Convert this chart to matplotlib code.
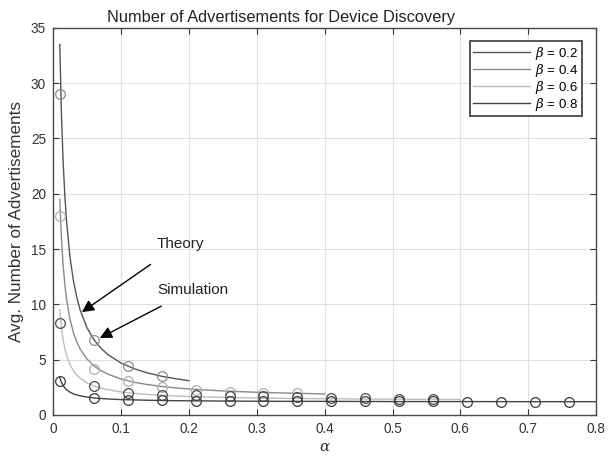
import numpy as np
import matplotlib
matplotlib.use('Agg')
import matplotlib.pyplot as plt

plt.rcParams['font.family'] = ['Liberation Sans', 'DejaVu Sans']
plt.rcParams['mathtext.fontset'] = 'dejavuserif'

# courbes théoriques
alpha_th = [0.01, 0.0125, 0.015, 0.0175, 0.02, 0.025, 0.03, 0.035, 0.04, 0.05,
            0.06, 0.07, 0.08, 0.1, 0.12, 0.14, 0.16, 0.18, 0.2,
            0.25, 0.3, 0.35, 0.4, 0.5, 0.6, 0.7, 0.8]
th_b02 = [33.5, 27.1, 22.83, 19.79, 17.5, 14.3, 12.17, 10.64, 9.5, 7.9,
          6.83, 6.07, 5.5, 4.7, 4.17, 3.79, 3.5, 3.28, 3.1]
th_b04 = [19.5, 15.89, 13.48, 11.76, 10.48, 8.67, 7.47, 6.61, 5.96, 5.06,
          4.46, 4.03, 3.71, 3.26, 2.95, 2.74, 2.58, 2.45, 2.35,
          2.17, 2.05, 1.97, 1.9]
th_b06 = [9.5, 7.85, 6.75, 5.97, 5.38, 4.56, 4.01, 3.61, 3.32, 2.91,
          2.63, 2.44, 2.29, 2.08, 1.95, 1.85, 1.78, 1.72, 1.67,
          1.59, 1.53, 1.50, 1.47, 1.42, 1.40]
th_b08 = [3.4, 2.95, 2.66, 2.44, 2.29, 2.06, 1.91, 1.81, 1.73, 1.62,
          1.54, 1.49, 1.45, 1.39, 1.36, 1.33, 1.31, 1.29, 1.28,
          1.26, 1.24, 1.23, 1.23, 1.21, 1.21, 1.20, 1.20]

# points de simulation
alpha_sim = [0.01, 0.06, 0.11, 0.16, 0.21, 0.26, 0.31, 0.36,
             0.41, 0.46, 0.51, 0.56, 0.61, 0.66, 0.71, 0.76]
sim_b02 = [29.0, 6.8, 4.4, 3.5]
sim_b04 = [18.0, 4.2, 3.1, 2.5, 2.3, 2.1, 2.0, 2.0]
sim_b06 = [8.3, 2.6, 2.0, 1.8, 1.8, 1.7, 1.7, 1.6, 1.5, 1.5, 1.45, 1.45]
sim_b08 = [3.1, 1.5, 1.35, 1.35, 1.3, 1.3, 1.3, 1.25, 1.25, 1.25, 1.25, 1.25,
           1.2, 1.2, 1.2, 1.2]

labels = [r'$\beta$ = 0.2', r'$\beta$ = 0.4', r'$\beta$ = 0.6', r'$\beta$ = 0.8']
line_cols = ['#555555', '#8a8a8a', '#bdbdbd', '#444444']
mk_cols = ['#8c8c8c', '#b0b0b0', '#4a4a4a', '#3a3a3a']

fig = plt.figure(figsize=(6.09, 4.57), dpi=100)
ax = fig.add_axes([0.087, 0.092, 0.892, 0.847])

theo = [th_b02, th_b04, th_b06, th_b08]
sims = [sim_b02, sim_b04, sim_b06, sim_b08]
for th, sim, lab, lc, mc in zip(theo, sims, labels, line_cols, mk_cols):
    ax.plot(alpha_th[:len(th)], th, color=lc, lw=1.0, label=lab)
    ax.plot(alpha_sim[:len(sim)], sim, 'o', mfc='none', mec=mc, ms=7, mew=0.9)

ax.set_xlim(0, 0.8)
ax.set_ylim(0, 35)
ax.set_xticks(np.arange(0, 0.81, 0.1))
ax.set_xticklabels(['0', '0.1', '0.2', '0.3', '0.4', '0.5', '0.6', '0.7', '0.8'])
ax.set_yticks(range(0, 36, 5))
ax.grid(True, color='#e0e0e0', lw=0.8)
ax.set_axisbelow(True)
ax.tick_params(direction='in', top=True, right=True, labelsize=9.8,
               colors='#333333', length=4, pad=5)
for s in ax.spines.values():
    s.set_color('#4a4a4a')
    s.set_linewidth(1.0)

ttl = ax.set_title('Number of Advertisements for Device Discovery', fontsize=11.8,
                   color='#222222', pad=4)
ttl.set_x(0.42)
ax.set_xlabel(r'$\alpha$', fontsize=11, color='#333333', labelpad=3)
ax.set_ylabel('Avg. Number of Advertisements', fontsize=12.3, color='#333333',
              labelpad=5)

leg = ax.legend(loc='upper right', fontsize=9.5, fancybox=False, framealpha=1,
                edgecolor='#555555', handlelength=4.3, handletextpad=0.4,
                borderpad=0.25, labelspacing=0.0, borderaxespad=0,
                bbox_to_anchor=(0.973, 0.965))
leg.get_frame().set_linewidth(1.4)

ax.annotate('Theory', xy=(0.0426, 9.3), xytext=(0.153, 15.5),
            fontsize=11, va='center', ha='left', color='#222222',
            arrowprops=dict(arrowstyle='-|>', color='k', lw=1.0,
                            mutation_scale=18, shrinkA=14, shrinkB=0))
ax.annotate('Simulation', xy=(0.069, 6.96), xytext=(0.153, 11.3),
            fontsize=11, va='center', ha='left', color='#222222',
            arrowprops=dict(arrowstyle='-|>', color='k', lw=1.0,
                            mutation_scale=18, shrinkA=10, shrinkB=0))

fig.savefig('out.png', dpi=100)
